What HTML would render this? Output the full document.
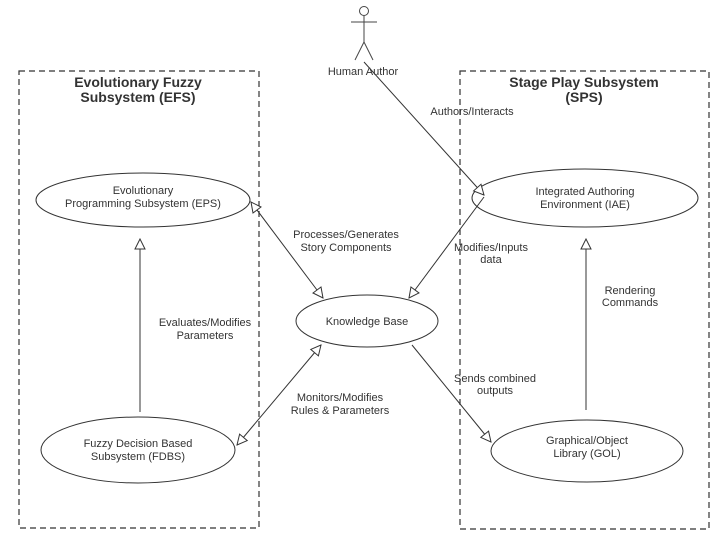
<!DOCTYPE html>
<html><head><meta charset="utf-8"><style>
html,body{margin:0;padding:0;background:#fff;}
svg{display:block;}
text{font-family:"Liberation Sans",Arial,sans-serif;fill:#333;}
</style></head><body>
<svg width="720" height="540" viewBox="0 0 720 540" xmlns="http://www.w3.org/2000/svg">
<defs>
<marker id="a" viewBox="0 0 12 12" refX="11" refY="6" markerWidth="12" markerHeight="12" markerUnits="userSpaceOnUse" orient="auto-start-reverse">
<path d="M1,1 L11,6 L1,11 Z" fill="#fff" stroke="#333" stroke-width="1"/>
</marker>
</defs>
<g fill="none" stroke="#333" stroke-width="1.2" stroke-dasharray="6,4">
<rect x="19" y="71" width="240" height="457"/>
<rect x="460" y="71" width="249" height="458"/>
</g>
<g font-weight="bold" font-size="14" text-anchor="middle">
<text x="138" y="87">Evolutionary Fuzzy</text>
<text x="138" y="102">Subsystem (EFS)</text>
<text x="584" y="87">Stage Play Subsystem</text>
<text x="584" y="102">(SPS)</text>
</g>
<!-- actor -->
<g stroke="#444" stroke-width="1" fill="none">
<circle cx="364" cy="11" r="4.5"/>
<line x1="364" y1="16" x2="364" y2="42"/>
<line x1="351" y1="22" x2="377" y2="22"/>
<line x1="364" y1="42" x2="355" y2="60"/>
<line x1="364" y1="42" x2="373" y2="60"/>
</g>
<!-- ellipses -->
<g fill="#fff" stroke="#333" stroke-width="1">
<ellipse cx="143" cy="200" rx="107" ry="27"/>
<ellipse cx="585" cy="198" rx="113" ry="29"/>
<ellipse cx="367" cy="321" rx="71" ry="26"/>
<ellipse cx="138" cy="450" rx="97" ry="33"/>
<ellipse cx="587" cy="451" rx="96" ry="31"/>
</g>
<!-- connectors -->
<g stroke="#333" stroke-width="1" fill="none">
<line x1="364" y1="62" x2="484" y2="195" marker-end="url(#a)"/>
<line x1="251" y1="202" x2="323" y2="298" marker-start="url(#a)" marker-end="url(#a)"/>
<line x1="484" y1="197" x2="409" y2="298" marker-end="url(#a)"/>
<line x1="140" y1="412" x2="140" y2="239" marker-end="url(#a)"/>
<line x1="237" y1="445" x2="321" y2="345" marker-start="url(#a)" marker-end="url(#a)"/>
<line x1="412" y1="345" x2="491" y2="442" marker-end="url(#a)"/>
<line x1="586" y1="410" x2="586" y2="239" marker-end="url(#a)"/>
</g>
<g font-size="11" text-anchor="middle">
<text x="363" y="75">Human Author</text>
<text x="143" y="194">Evolutionary</text>
<text x="143" y="207">Programming Subsystem (EPS)</text>
<text x="585" y="195">Integrated Authoring</text>
<text x="585" y="208">Environment (IAE)</text>
<text x="367" y="325">Knowledge Base</text>
<text x="138" y="447">Fuzzy Decision Based</text>
<text x="138" y="460">Subsystem (FDBS)</text>
<text x="587" y="444">Graphical/Object</text>
<text x="587" y="457">Library (GOL)</text>
<text x="472" y="115">Authors/Interacts</text>
<text x="346" y="238">Processes/Generates</text>
<text x="346" y="251">Story Components</text>
<text x="491" y="251">Modifies/Inputs</text>
<text x="491" y="263">data</text>
<text x="630" y="294">Rendering</text>
<text x="630" y="306">Commands</text>
<text x="205" y="326">Evaluates/Modifies</text>
<text x="205" y="339">Parameters</text>
<text x="495" y="382">Sends combined</text>
<text x="495" y="394">outputs</text>
<text x="340" y="401">Monitors/Modifies</text>
<text x="340" y="414">Rules &amp; Parameters</text>
</g>
</svg>
</body></html>
